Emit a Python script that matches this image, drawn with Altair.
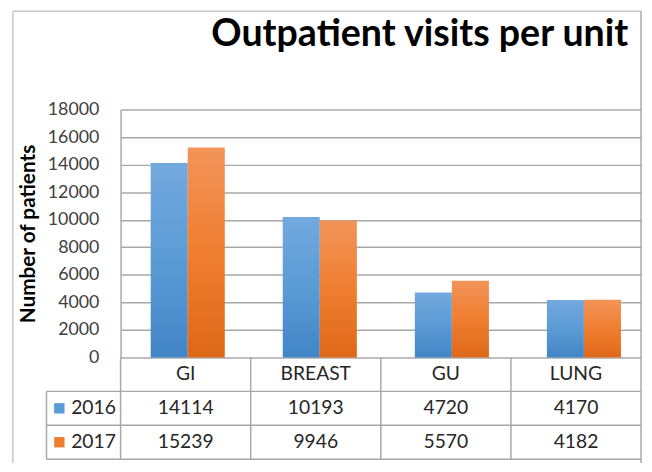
import altair as alt
import pandas as pd

# ---------------- data ----------------
TITLE = "Outpatient visits per unit"
Y_TITLE = "Number of patients"
categories = ["GI", "BREAST", "GU", "LUNG"]
years = ["2016", "2017"]
visits_2016 = [14114, 10193, 4720, 4170]
visits_2017 = [15239, 9946, 5570, 4182]
y_ticks = [0, 2000, 4000, 6000, 8000, 10000, 12000, 14000, 16000, 18000]
key_colors = ["#5b9bd5", "#ed7d31"]

# ---------------- layout / style ----------------
FONT = "Lato"
W, H = 527, 251
PAD_L, PAD_T, PAD_R = 114, 100, 3
TOTAL_H = 455
TABLE_BOTTOM = 354
ROW_H = (TABLE_BOTTOM - H) / 3
LEGEND_LEFT = -75
FRAME_LEFT = -109
FRAME_TOP = -99.5
GRID = "#a8a8a8"
FRAME = "#c8c8c8"
TXT = "#262626"

bars = pd.DataFrame({
    "unit": categories * 2,
    "year": [years[0]] * len(categories) + [years[1]] * len(categories),
    "visits": visits_2016 + visits_2017,
})

rows = ["unit"] + years
table = pd.DataFrame({
    "unit": categories * 3,
    "row": [r for r in rows for _ in categories],
    "label": categories + [str(v) for v in visits_2016] + [str(v) for v in visits_2017],
})
cats_df = pd.DataFrame({"unit": categories})
years_df = pd.DataFrame({"row": years})
one = pd.DataFrame({"a": [0]})

# ---------------- scales ----------------
bar_x = alt.X("unit:N", sort=categories, axis=None,
              scale=alt.Scale(type="band", domain=categories, paddingInner=0.439,
                              paddingOuter=0.19, align=0.6))
bar_xoff = alt.XOffset("year:N", sort=years,
                       scale=alt.Scale(domain=years, paddingInner=0, paddingOuter=0))
tab_x_scale = alt.Scale(type="band", domain=categories, paddingInner=0, paddingOuter=0)
tab_y_scale = alt.Scale(type="band", domain=rows, range=[H, TABLE_BOTTOM],
                        paddingInner=0, paddingOuter=0)

y_axis = alt.Axis(values=y_ticks, title=Y_TITLE, grid=True, ticks=False, domain=True,
                  domainColor=GRID, domainWidth=1.5, gridColor=GRID, gridWidth=1.5,
                  labelFont=FONT, labelFontSize=18, labelColor="#404040", labelPadding=22,
                  titleFont=FONT, titleFontSize=21, titleFontWeight="bold",
                  titleColor="black", titlePadding=9, format="d")


def grad(top, mid, bot):
    return alt.LinearGradient(
        gradient="linear", x1=0, x2=0, y1=0, y2=1,
        stops=[alt.GradientStop(color=top, offset=0),
               alt.GradientStop(color=mid, offset=0.5),
               alt.GradientStop(color=bot, offset=1)])


bar16 = alt.Chart(bars).transform_filter(alt.datum.year == years[0]).mark_bar(
    color=grad("#73a9de", "#5b9bd5", "#4285c6")
).encode(
    x=bar_x, xOffset=bar_xoff,
    y=alt.Y("visits:Q", scale=alt.Scale(domain=[0, 18000]), axis=y_axis),
)
bar17 = alt.Chart(bars).transform_filter(alt.datum.year == years[1]).mark_bar(
    color=grad("#f29459", "#f07e30", "#de6818")
).encode(
    x=bar_x, xOffset=bar_xoff,
    y=alt.Y("visits:Q", scale=alt.Scale(domain=[0, 18000]), axis=None),
)

# ---------------- data table ----------------
tab_text = alt.Chart(table).mark_text(font=FONT, fontSize=19.5, color=TXT).encode(
    x=alt.X("unit:N", scale=tab_x_scale, axis=None),
    y=alt.Y("row:N", scale=tab_y_scale, axis=None),
    text="label:N",
)
dividers = alt.Chart(cats_df).mark_rule(color=GRID, strokeWidth=1.5).encode(
    x=alt.X("unit:N", scale=tab_x_scale, axis=None, bandPosition=0),
    y=alt.value(H), y2=alt.value(TABLE_BOTTOM),
)
row_lines = alt.Chart(years_df).mark_rule(color=GRID, strokeWidth=1.5).encode(
    y=alt.Y("row:N", scale=tab_y_scale, axis=None, bandPosition=0),
    x=alt.value(LEGEND_LEFT), x2=alt.value(W),
)
bottom_line = alt.Chart(one).mark_rule(color=GRID, strokeWidth=1.5).encode(
    y=alt.value(TABLE_BOTTOM), x=alt.value(LEGEND_LEFT), x2=alt.value(W),
)
legend_left = alt.Chart(one).mark_rule(color=GRID, strokeWidth=1.5).encode(
    x=alt.value(LEGEND_LEFT), y=alt.value(H + ROW_H), y2=alt.value(TABLE_BOTTOM),
)
keys = alt.Chart(years_df).mark_square(size=110, opacity=1).encode(
    x=alt.value(LEGEND_LEFT + 13),
    y=alt.Y("row:N", scale=tab_y_scale, axis=None),
    color=alt.Color("row:N", scale=alt.Scale(domain=years, range=key_colors), legend=None),
)
key_text = alt.Chart(years_df).mark_text(font=FONT, fontSize=19.5, color=TXT, align="left").encode(
    x=alt.value(LEGEND_LEFT + 25),
    y=alt.Y("row:N", scale=tab_y_scale, axis=None),
    text="row:N",
)

# ---------------- frame & title ----------------
frame_top = alt.Chart(one).mark_rule(color=FRAME, strokeWidth=1.5).encode(
    y=alt.value(FRAME_TOP), x=alt.value(FRAME_LEFT), x2=alt.value(W))
frame_left = alt.Chart(one).mark_rule(color=FRAME, strokeWidth=1.5).encode(
    x=alt.value(FRAME_LEFT), y=alt.value(FRAME_TOP), y2=alt.value(TOTAL_H))
frame_right = alt.Chart(one).mark_rule(color=GRID, strokeWidth=1.5).encode(
    x=alt.value(W), y=alt.value(FRAME_TOP), y2=alt.value(TOTAL_H))

title = alt.Chart(pd.DataFrame({"t": [TITLE]})).mark_text(
    font=FONT, fontSize=38, fontWeight="bold", color="black",
    align="center", baseline="alphabetic"
).encode(x=alt.value(303), y=alt.value(-64), text="t:N")

chart = alt.layer(
    frame_top, frame_left, frame_right,
    bar16, bar17,
    dividers, row_lines, bottom_line, legend_left,
    tab_text, keys, key_text, title,
).resolve_scale(
    x="independent", y="independent", color="independent"
).properties(
    width=W, height=H,
    autosize=alt.AutoSizeParams(type="none"),
    padding={"left": PAD_L, "top": PAD_T, "right": PAD_R, "bottom": TOTAL_H - PAD_T - H},
    background="white",
).configure_view(stroke=None)

chart.save("out.html", embed_options={"renderer": "svg", "actions": False})
